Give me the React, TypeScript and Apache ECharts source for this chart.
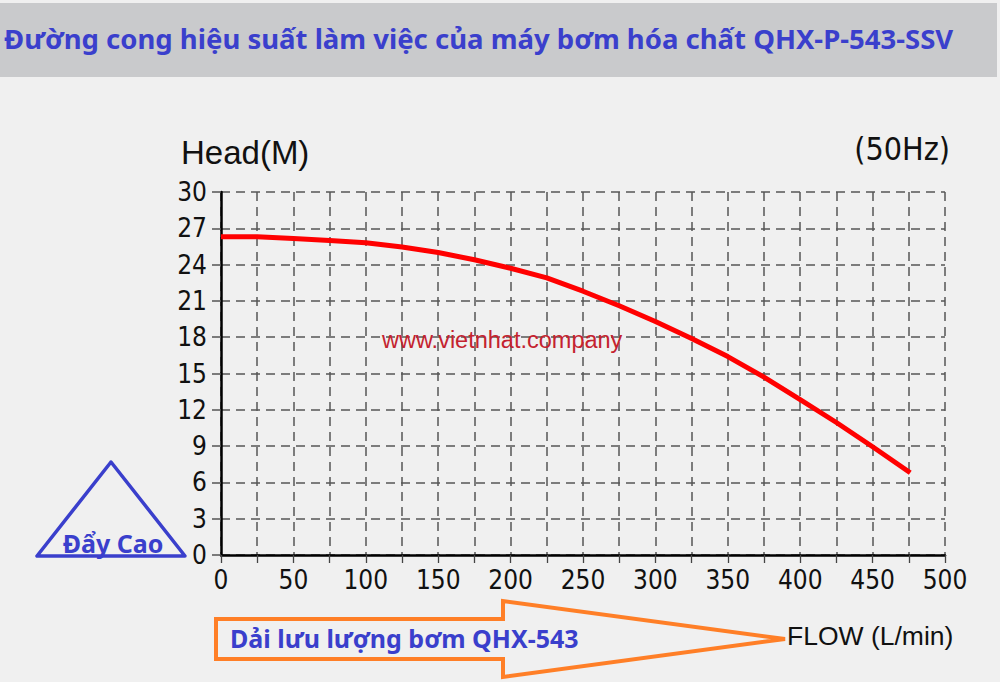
import React, { useEffect, useRef } from "react";
import * as echarts from "echarts";

const flowValues = [0, 25, 50, 75, 100, 125, 150, 175, 200, 225, 250, 275, 300, 325, 350, 375, 400, 425, 450, 476];
const headValues = [26.3, 26.3, 26.15, 26.0, 25.8, 25.45, 25.0, 24.4, 23.7, 22.9, 21.8, 20.6, 19.3, 17.9, 16.4, 14.7, 12.85, 10.95, 8.95, 6.8];

const titleText = "Đường cong hiệu suất làm việc của máy bơm hóa chất QHX-P-543-SSV";
const yAxisName = "Head(M)";
const freqText = "(50Hz)";
const xAxisName = "FLOW (L/min)";
const watermark = "www.vietnhat.company";
const triangleText = "Đẩy Cao";
const arrowText = "Dải lưu lượng bơm QHX-543";

const BLUE = "#3a3fcc";
const NARROW = "'Liberation Sans Narrow', 'DejaVu Sans Condensed', sans-serif";
const BOLD = "'Noto Sans', 'Open Sans', sans-serif";

export default function App() {
  const ref = useRef<HTMLDivElement>(null);
  useEffect(() => {
    if (!ref.current) return;
    const chart = echarts.init(ref.current, undefined, { renderer: "svg" });
    const data = flowValues.map((f, i) => [f, headValues[i]]);
    chart.setOption({
      animation: false,
      backgroundColor: "#f0f0f0",
      grid: { left: 221, right: 55, top: 192, bottom: 127, containLabel: false },
      xAxis: {
        type: "value",
        min: 0,
        max: 500,
        interval: 25,
        axisLine: { show: true, onZero: false, lineStyle: { color: "#000", width: 2.5 } },
        axisTick: { show: true, length: 8, lineStyle: { color: "#444", width: 1.3 } },
        axisLabel: {
          margin: 12,
          color: "#111",
          fontFamily: NARROW,
          fontSize: 26,
          formatter: (v: number) => (v % 50 === 0 ? String(v) : ""),
        },
        splitLine: { show: true, lineStyle: { color: "#555", width: 1.5, type: [9, 6] } },
      },
      yAxis: {
        type: "value",
        min: 0,
        max: 30,
        interval: 3,
        axisLine: { show: true, onZero: false, lineStyle: { color: "#000", width: 2.5 } },
        axisTick: { show: true, length: 9, lineStyle: { color: "#555", width: 1.5 } },
        axisLabel: { margin: 14, color: "#111", fontFamily: NARROW, fontSize: 26 },
        splitLine: { show: true, lineStyle: { color: "#555", width: 1.5, type: [9, 6] } },
      },
      series: [
        {
          type: "line",
          data,
          smooth: false,
          showSymbol: false,
          z: 5,
          lineStyle: { color: "#ff0000", width: 5, join: "round", cap: "butt" },
        },
      ],
      graphic: [
        { type: "rect", shape: { x: 0, y: 3, width: 997, height: 74 }, style: { fill: "#c9cacc" }, z: 0 },
        {
          type: "text",
          x: 4,
          y: 38,
          style: { text: titleText, fill: BLUE, font: `bold 27.5px ${BOLD}`, verticalAlign: "middle" },
        },
        {
          type: "text",
          x: 181,
          y: 152,
          style: { text: yAxisName, fill: "#111", font: `33px 'Liberation Sans', Arial, sans-serif`, verticalAlign: "middle" },
        },
        {
          type: "text",
          x: 950,
          y: 149,
          style: { text: freqText, fill: "#111", font: `32px ${NARROW}`, align: "right", verticalAlign: "middle" },
        },
        {
          type: "text",
          x: 382,
          y: 340,
          z: 3,
          style: { text: watermark, fill: "#c4232f", font: `23.5px 'Liberation Sans', Arial, sans-serif`, verticalAlign: "middle" },
        },
        {
          type: "polygon",
          shape: { points: [[111, 462], [37, 556], [185, 556]] },
          style: { fill: "none", stroke: BLUE, lineWidth: 3.5, lineJoin: "round" },
        },
        {
          type: "text",
          x: 113,
          y: 543,
          style: { text: triangleText, fill: BLUE, font: `bold 25px ${BOLD}`, align: "center", verticalAlign: "middle" },
        },
        {
          type: "polygon",
          shape: {
            points: [
              [216, 619],
              [503, 619],
              [503, 601],
              [785, 639],
              [503, 677],
              [503, 659],
              [216, 659],
            ],
          },
          style: { fill: "none", stroke: "#ff7f27", lineWidth: 4, lineJoin: "miter" },
        },
        {
          type: "text",
          x: 230,
          y: 638,
          style: { text: arrowText, fill: BLUE, font: `bold 25px ${BOLD}`, verticalAlign: "middle" },
        },
        {
          type: "text",
          x: 787,
          y: 636,
          style: { text: xAxisName, fill: "#111", font: `26.5px 'Liberation Sans', Arial, sans-serif`, verticalAlign: "middle" },
        },
      ],
    });
    return () => chart.dispose();
  }, []);
  return (
    <div
      ref={ref}
      style={{ position: "absolute", left: 0, top: 0, width: 1000, height: 682 }}
    />
  );
}
